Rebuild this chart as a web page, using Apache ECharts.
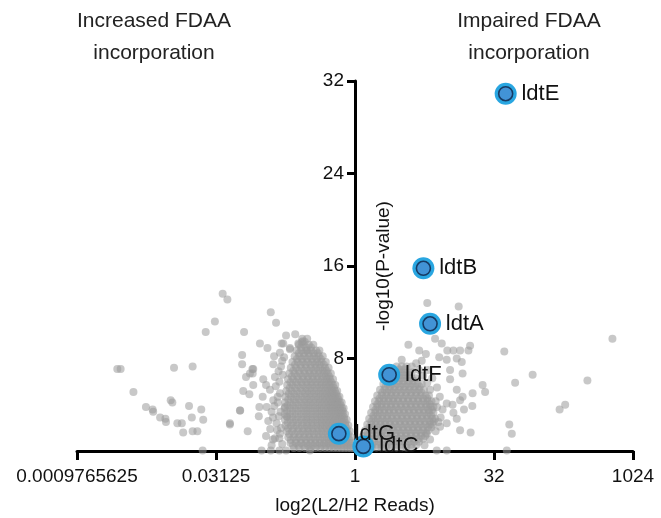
<!DOCTYPE html>
<html>
<head>
<meta charset="utf-8">
<script src="https://cdn.jsdelivr.net/npm/echarts@6/dist/echarts.min.js"></script>
<style>
html, body { margin: 0; padding: 0; background: #fff; }
#chart { width: 661px; height: 518px; }
</style>
</head>
<body>
<div id="chart"></div>
<script>
// x = log2(L2/H2 reads), y = -log10(P-value)
const xTickLabels = ['0.0009765625', '0.03125', '1', '32', '1024']
const yTicks = [8, 16, 24, 32]

// highlighted genes
const hitNames = ['ldtE', 'ldtB', 'ldtA', 'ldtF', 'ldtG', 'ldtC']
const hitLog2 = [5.42, 2.46, 2.70, 1.23, -0.58, 0.30]
const hitPval = [30.9, 15.8, 11.0, 6.6, 1.5, 0.4]

// scattered genes, read one by one
const otherGenes = [
    [-4.76, 13.6], [-4.59, 13.1], [-5.04, 11.2], [-5.37, 10.3], [-3.99, 10.3], [-3.42, 9.3],
    [-8.55, 7.1], [-8.43, 7.1], [-6.51, 7.2], [-5.84, 7.3], [-7.97, 5.1], [-7.52, 3.8],
    [-7.28, 3.6], [-7.26, 3.4], [-6.63, 4.4], [-6.57, 4.2], [-5.97, 3.9], [-5.53, 3.6],
    [-7.01, 2.9], [-6.82, 2.8], [-6.80, 2.5], [-5.87, 2.9], [-5.46, 2.7], [-6.39, 2.4],
    [-6.23, 2.4], [-6.18, 1.6], [-5.84, 1.7], [-5.67, 1.7], [-4.50, 2.3], [-4.13, 3.5],
    [-3.86, 1.7], [-5.48, 0.05], [-3.36, 0.05], [-3.03, 0.05], [-2.72, 0.05], [-2.48, 0.05],
    [-1.62, 0.05], [-3.03, 12.0], [-2.84, 11.1], [-2.48, 10.0], [-2.15, 10.1], [-3.15, 8.9],
    [-2.58, 9.3], [-1.92, 9.4], [-1.72, 8.7], [-2.91, 8.2], [-2.70, 8.5], [-2.34, 8.8],
    [-4.06, 8.3], [-4.06, 7.5], [-2.94, 7.5], [-3.66, 7.1], [-3.78, 6.7], [-3.92, 6.4],
    [-3.30, 6.2], [-2.88, 6.4], [-3.66, 5.7], [-3.20, 5.7], [-4.02, 5.2], [-3.80, 4.9],
    [-3.06, 5.3], [-2.70, 5.0], [-3.32, 4.7], [-2.94, 4.4], [-4.14, 3.5], [-3.44, 3.8],
    [-3.18, 3.8], [-3.46, 3.0], [-3.12, 2.6], [-3.00, 3.4], [-2.82, 2.4], [-2.70, 1.5],
    [-4.50, 2.4], [-2.52, 3.8], [-2.46, 3.0], [-1.88, 9.5], [-2.64, 9.3], [-2.04, 9.3],
    [-2.34, 8.9], [-3.69, 7.1], [-3.68, 6.7], [-2.75, 6.9], [-2.62, 7.8], [-2.68, 3.4],
    [-2.78, 4.2], [-2.66, 2.0], [-2.88, 1.1], [-2.62, 0.6], [-2.72, 6.0], [-2.85, 5.6],
    [-2.78, 4.7], [-2.90, 3.9], [-2.74, 3.0], [-2.95, 2.9], [-3.05, 1.9], [-2.80, 1.8],
    [-2.95, 1.0], [-2.72, 1.1], [-3.20, 1.3], [-2.60, 6.6], [-2.66, 7.3], [-2.55, 8.1],
    [-3.00, 0.5],
    [2.60, 12.8], [3.73, 12.5], [2.88, 9.7], [3.12, 9.3], [1.92, 9.2], [2.31, 8.7],
    [3.32, 8.7], [3.54, 8.7], [3.78, 8.7], [4.14, 9.1], [4.08, 8.7], [3.66, 8.0],
    [3.30, 7.9], [3.03, 8.1], [1.68, 7.9], [2.04, 7.3], [3.42, 7.0], [3.84, 7.7],
    [3.87, 6.7], [3.42, 6.2], [3.66, 5.3], [3.78, 4.4], [3.30, 4.1], [3.54, 3.3],
    [3.06, 2.1], [2.58, 1.5], [2.94, 0.05], [3.30, 0.05], [5.37, 8.6], [9.26, 9.7],
    [6.39, 6.6], [5.76, 5.9], [8.36, 6.1], [4.59, 5.7], [4.23, 5.0], [4.68, 5.1],
    [4.22, 3.9], [3.87, 4.7], [3.92, 3.6], [7.36, 3.6], [7.56, 4.0], [5.55, 2.3],
    [5.64, 1.5], [4.16, 1.6], [3.78, 1.8], [3.66, 2.8], [3.51, 4.0], [3.30, 2.4],
    [5.46, 0.05], [2.40, 7.8], [2.62, 7.0], [2.78, 6.3], [2.95, 5.5], [3.05, 4.7],
    [3.15, 3.6], [3.08, 2.9], [2.55, 8.4], [2.20, 7.6], [2.95, 3.8], [2.90, 4.3],
    [2.70, 5.3], [2.60, 5.9], [2.45, 6.5], [2.30, 7.0], [3.00, 2.5], [2.90, 1.7],
    [2.70, 1.0], [2.50, 0.5]
]

// dense clouds: [y, [x, x, ...]] rows traced over the grey areas
const leftCloudRows = [
    [9.7, [-1.9, -1.72]],
    [9.45, [-1.81]],
    [9.2, [-2.02, -1.85, -1.66, -1.5]],
    [8.95, [-1.94, -1.76, -1.58]],
    [8.7, [-2.1, -1.93, -1.76, -1.58, -1.4, -1.28]],
    [8.45, [-2.02, -1.85, -1.67, -1.49, -1.34]],
    [8.2, [-2.17, -2.0, -1.82, -1.64, -1.47, -1.3, -1.16]],
    [7.95, [-2.09, -1.91, -1.73, -1.56, -1.39, -1.23]],
    [7.7, [-2.25, -2.06, -1.88, -1.7, -1.52, -1.35, -1.2, -1.05]],
    [7.45, [-2.16, -1.97, -1.79, -1.61, -1.44, -1.28, -1.12]],
    [7.2, [-2.31, -2.12, -1.93, -1.75, -1.57, -1.4, -1.24, -1.08, -0.95]],
    [6.95, [-2.22, -2.03, -1.84, -1.66, -1.49, -1.32, -1.16, -1.02]],
    [6.7, [-2.36, -2.17, -1.98, -1.8, -1.62, -1.45, -1.28, -1.12, -0.98, -0.87]],
    [6.45, [-2.27, -2.08, -1.89, -1.71, -1.54, -1.37, -1.2, -1.05, -0.93]],
    [6.2, [-2.41, -2.22, -2.03, -1.85, -1.67, -1.5, -1.33, -1.17, -1.02, -0.9, -0.79]],
    [5.95, [-2.32, -2.13, -1.94, -1.76, -1.59, -1.42, -1.25, -1.1, -0.96, -0.85]],
    [5.7, [-2.44, -2.25, -2.06, -1.88, -1.7, -1.53, -1.36, -1.2, -1.05, -0.92, -0.8, -0.71]],
    [5.45, [-2.35, -2.16, -1.97, -1.79, -1.62, -1.45, -1.28, -1.13, -0.99, -0.86, -0.76]],
    [5.2, [-2.47, -2.28, -2.09, -1.9, -1.72, -1.55, -1.38, -1.22, -1.07, -0.94, -0.82, -0.72, -0.64]],
    [4.95, [-2.38, -2.19, -2.0, -1.81, -1.64, -1.47, -1.3, -1.15, -1.01, -0.88, -0.77, -0.68]],
    [4.7, [-2.5, -2.3, -2.11, -1.92, -1.74, -1.57, -1.4, -1.24, -1.09, -0.96, -0.84, -0.73, -0.63, -0.56]],
    [4.45, [-2.4, -2.2, -2.02, -1.83, -1.66, -1.49, -1.32, -1.17, -1.03, -0.9, -0.79, -0.68, -0.6]],
    [4.2, [-2.52, -2.32, -2.13, -1.94, -1.76, -1.59, -1.42, -1.26, -1.11, -0.97, -0.85, -0.74, -0.64, -0.55, -0.48]],
    [3.95, [-2.42, -2.23, -2.04, -1.85, -1.68, -1.51, -1.34, -1.19, -1.04, -0.91, -0.8, -0.69, -0.6, -0.52]],
    [3.7, [-2.53, -2.33, -2.14, -1.95, -1.77, -1.6, -1.43, -1.27, -1.12, -0.98, -0.86, -0.75, -0.65, -0.55, -0.47, -0.41]],
    [3.45, [-2.43, -2.24, -2.05, -1.86, -1.69, -1.52, -1.35, -1.2, -1.05, -0.92, -0.81, -0.7, -0.6, -0.51, -0.44]],
    [3.2, [-2.53, -2.33, -2.14, -1.95, -1.77, -1.6, -1.43, -1.27, -1.12, -0.98, -0.85, -0.73, -0.62, -0.52, -0.44, -0.36]],
    [2.95, [-2.43, -2.24, -2.05, -1.86, -1.69, -1.52, -1.35, -1.2, -1.05, -0.92, -0.79, -0.68, -0.57, -0.48, -0.4]],
    [2.7, [-2.52, -2.32, -2.13, -1.94, -1.76, -1.59, -1.42, -1.26, -1.11, -0.97, -0.84, -0.72, -0.6, -0.49, -0.39, -0.3]],
    [2.45, [-2.42, -2.23, -2.04, -1.85, -1.68, -1.51, -1.34, -1.19, -1.04, -0.91, -0.78, -0.66, -0.55, -0.44, -0.35]],
    [2.2, [-2.5, -2.3, -2.11, -1.92, -1.74, -1.57, -1.4, -1.24, -1.09, -0.95, -0.82, -0.7, -0.58, -0.46, -0.35, -0.24]],
    [1.95, [-2.4, -2.21, -2.02, -1.83, -1.66, -1.49, -1.32, -1.17, -1.02, -0.89, -0.76, -0.64, -0.52, -0.41, -0.3]],
    [1.7, [-2.45, -2.26, -2.07, -1.89, -1.71, -1.54, -1.37, -1.21, -1.06, -0.92, -0.79, -0.66, -0.54, -0.42, -0.3, -0.19]],
    [1.45, [-2.36, -2.17, -1.98, -1.8, -1.63, -1.46, -1.29, -1.14, -0.99, -0.86, -0.73, -0.6, -0.48, -0.36, -0.25]],
    [1.2, [-2.4, -2.21, -2.03, -1.85, -1.67, -1.5, -1.33, -1.17, -1.02, -0.88, -0.75, -0.62, -0.5, -0.38, -0.26, -0.14]],
    [0.95, [-2.31, -2.12, -1.94, -1.76, -1.59, -1.42, -1.25, -1.1, -0.95, -0.82, -0.69, -0.56, -0.44, -0.32, -0.2]],
    [0.7, [-2.32, -2.13, -1.95, -1.77, -1.6, -1.43, -1.27, -1.11, -0.96, -0.82, -0.69, -0.56, -0.44, -0.32, -0.21, -0.1]],
    [0.48, [-2.23, -2.04, -1.86, -1.69, -1.52, -1.35, -1.19, -1.04, -0.89, -0.76, -0.63, -0.5, -0.38, -0.27, -0.16]],
    [0.25, [-2.2, -2.0, -1.8, -1.6, -1.42, -1.25, -1.08, -0.92, -0.77, -0.63, -0.5, -0.38, -0.26, -0.15, -0.05]]
]

const rightCloudRows = [
    [7.3, [1.5, 1.68, 1.85]],
    [7.05, [1.59, 1.77]],
    [6.8, [1.33, 1.5, 1.68, 1.86, 2.04]],
    [6.55, [1.42, 1.59, 1.77, 1.95]],
    [6.3, [1.15, 1.32, 1.5, 1.68, 1.86, 2.04, 2.22]],
    [6.05, [1.24, 1.41, 1.59, 1.77, 1.95, 2.13]],
    [5.8, [1.02, 1.18, 1.35, 1.53, 1.71, 1.89, 2.07, 2.25, 2.4]],
    [5.55, [1.1, 1.27, 1.44, 1.62, 1.8, 1.98, 2.16, 2.33]],
    [5.3, [0.9, 1.06, 1.23, 1.4, 1.58, 1.76, 1.94, 2.12, 2.3, 2.48]],
    [5.05, [0.98, 1.15, 1.32, 1.49, 1.67, 1.85, 2.03, 2.21, 2.39]],
    [4.8, [0.8, 0.96, 1.12, 1.29, 1.46, 1.64, 1.82, 2.0, 2.18, 2.36, 2.54, 2.66]],
    [4.55, [0.88, 1.04, 1.21, 1.38, 1.55, 1.73, 1.91, 2.09, 2.27, 2.45, 2.6]],
    [4.3, [0.72, 0.87, 1.03, 1.2, 1.37, 1.55, 1.73, 1.91, 2.09, 2.27, 2.45, 2.62, 2.75]],
    [4.05, [0.8, 0.95, 1.12, 1.29, 1.46, 1.64, 1.82, 2.0, 2.18, 2.36, 2.54, 2.69]],
    [3.8, [0.65, 0.8, 0.96, 1.13, 1.3, 1.48, 1.66, 1.84, 2.02, 2.2, 2.38, 2.56, 2.72, 2.82]],
    [3.55, [0.73, 0.88, 1.05, 1.22, 1.39, 1.57, 1.75, 1.93, 2.11, 2.29, 2.47, 2.64, 2.77]],
    [3.3, [0.58, 0.73, 0.89, 1.06, 1.23, 1.41, 1.59, 1.77, 1.95, 2.13, 2.31, 2.49, 2.66, 2.82]],
    [3.05, [0.66, 0.81, 0.98, 1.15, 1.32, 1.5, 1.68, 1.86, 2.04, 2.22, 2.4, 2.58, 2.74]],
    [2.8, [0.51, 0.66, 0.82, 0.99, 1.16, 1.34, 1.52, 1.7, 1.88, 2.06, 2.24, 2.42, 2.6, 2.78, 2.88]],
    [2.55, [0.59, 0.74, 0.91, 1.08, 1.25, 1.43, 1.61, 1.79, 1.97, 2.15, 2.33, 2.51, 2.69, 2.83]],
    [2.3, [0.44, 0.59, 0.75, 0.92, 1.09, 1.27, 1.45, 1.63, 1.81, 1.99, 2.17, 2.35, 2.53, 2.7, 2.8]],
    [2.05, [0.52, 0.67, 0.84, 1.0, 1.18, 1.36, 1.54, 1.72, 1.9, 2.08, 2.26, 2.44, 2.62, 2.75]],
    [1.8, [0.37, 0.52, 0.68, 0.85, 1.02, 1.2, 1.38, 1.56, 1.74, 1.92, 2.1, 2.28, 2.46, 2.64]],
    [1.55, [0.45, 0.6, 0.77, 0.94, 1.11, 1.29, 1.47, 1.65, 1.83, 2.01, 2.19, 2.37, 2.55]],
    [1.3, [0.29, 0.44, 0.6, 0.77, 0.94, 1.12, 1.3, 1.48, 1.66, 1.84, 2.02, 2.2, 2.38, 2.52]],
    [1.05, [0.37, 0.52, 0.69, 0.86, 1.03, 1.21, 1.39, 1.57, 1.75, 1.93, 2.11, 2.29, 2.45]],
    [0.8, [0.21, 0.36, 0.52, 0.69, 0.86, 1.04, 1.22, 1.4, 1.58, 1.76, 1.94, 2.12, 2.3]],
    [0.55, [0.29, 0.44, 0.61, 0.78, 0.95, 1.13, 1.31, 1.49, 1.67, 1.85, 2.03, 2.21]],
    [0.3, [0.12, 0.27, 0.43, 0.6, 0.77, 0.95, 1.13, 1.31, 1.49, 1.67, 1.85, 2.03]]
]

const FONT = '"Liberation Sans", Arial, Helvetica, sans-serif'

function rowsToPoints (rows) {
    const pts = []
    rows.forEach(([y, xs]) => xs.forEach(x => pts.push([x, y])))
    return pts
}

const greyPoints = otherGenes
    .concat(rowsToPoints(leftCloudRows))
    .concat(rowsToPoints(rightCloudRows))

const hits = hitNames.map((name, i) => ({ name: name, value: [hitLog2[i], hitPval[i]] }))

const titleStyle = { fontSize: 21, fontWeight: 'normal', color: '#222', lineHeight: 32, fontFamily: FONT }

const option = {
    animation: false,
    backgroundColor: '#fff',
    textStyle: { fontFamily: FONT },
    title: [
        { text: 'Increased FDAA\nincorporation', left: 149, top: 0, textAlign: 'center', textStyle: titleStyle },
        { text: 'Impaired FDAA\nincorporation', left: 524, top: 0, textAlign: 'center', textStyle: titleStyle }
    ],
    grid: { left: 77, right: 28, top: 81, bottom: 67, outerBoundsMode: 'none' },
    xAxis: {
        type: 'value',
        min: -10, max: 10, interval: 5,
        name: 'log2(L2/H2 Reads)',
        nameLocation: 'middle',
        nameGap: 45,
        nameTextStyle: { fontSize: 19, color: '#111', fontFamily: FONT },
        axisLine: { onZero: false, lineStyle: { color: '#000', width: 3 } },
        axisTick: { length: 9, lineStyle: { color: '#000', width: 3 } },
        axisLabel: {
            margin: 16, fontSize: 19, color: '#111', fontFamily: FONT,
            formatter: v => xTickLabels[Math.round((v + 10) / 5)]
        },
        splitLine: { show: false }
    },
    yAxis: {
        type: 'value',
        min: 0, max: 32, interval: 8,
        // axis sits at x = 1 (log2 = 0), the middle of the grid
        offset: -278,
        name: '-log10(P-value)',
        nameLocation: 'middle',
        nameGap: -38,
        nameMoveOverlap: false,
        nameTextStyle: { fontSize: 19, color: '#111', fontFamily: FONT },
        axisLine: { onZero: false, lineStyle: { color: '#000', width: 3 } },
        axisTick: { length: 8, lineStyle: { color: '#000', width: 3 } },
        axisLabel: {
            margin: 11, fontSize: 19, color: '#111', fontFamily: FONT,
            showMinLabel: false,
            formatter: v => (yTicks.indexOf(v) >= 0 ? String(v) : '')
        },
        splitLine: { show: false }
    },
    series: [
        {
            type: 'scatter',
            data: greyPoints,
            symbolSize: 8,
            itemStyle: { color: '#9a9a9a', opacity: 0.55 },
            silent: true,
            z: 1
        },
        {
            // light blue halo
            type: 'scatter',
            data: hits,
            symbolSize: 22,
            itemStyle: { color: '#29a6e1', opacity: 1 },
            silent: true,
            z: 3
        },
        {
            type: 'scatter',
            data: hits,
            symbolSize: 14,
            itemStyle: { color: '#4293d6', borderColor: '#173a63', borderWidth: 1.6, opacity: 1 },
            label: {
                show: true, position: 'right', distance: 8,
                formatter: '{b}', fontSize: 22, color: '#111', fontFamily: FONT
            },
            silent: true,
            z: 4
        }
    ]
}

const chart = echarts.init(document.getElementById('chart'))
chart.setOption(option)
</script>
</body>
</html>
